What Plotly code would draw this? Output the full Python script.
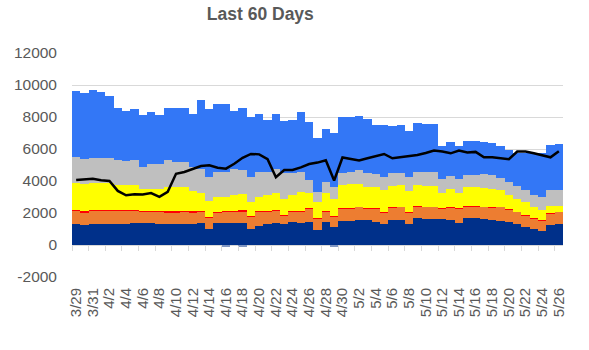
import plotly.graph_objects as go

days = ["3/29", "3/30", "3/31",
        "4/1", "4/2", "4/3", "4/4", "4/5", "4/6", "4/7", "4/8", "4/9", "4/10",
        "4/11", "4/12", "4/13", "4/14", "4/15", "4/16", "4/17", "4/18", "4/19", "4/20",
        "4/21", "4/22", "4/23", "4/24", "4/25", "4/26", "4/27", "4/28", "4/29", "4/30",
        "5/1", "5/2", "5/3", "5/4", "5/5", "5/6", "5/7", "5/8", "5/9", "5/10",
        "5/11", "5/12", "5/13", "5/14", "5/15", "5/16", "5/17", "5/18", "5/19", "5/20",
        "5/21", "5/22", "5/23", "5/24", "5/25", "5/26"]

navy = [1330, 1230, 1330, 1330, 1330, 1330, 1330, 1380, 1400, 1400,
        1330, 1290, 1290, 1290, 1330, 1380, 980, 1400, 1380, 1380,
        1380, 980, 1170, 1330, 1380, 1290, 1440, 1380, 1440, 910,
        1440, 1120, 1500, 1500, 1590, 1540, 1440, 1330, 1590, 1590,
        1290, 1710, 1650, 1650, 1650, 1590, 1380, 1710, 1710, 1650,
        1590, 1500, 1440, 1290, 1120, 1020, 870, 1230, 1290]
orange = [840, 800, 800, 820, 820, 820, 810, 750, 710, 710,
          770, 770, 770, 790, 720, 690, 720, 600, 690, 690,
          720, 770, 900, 780, 770, 570, 630, 730, 840, 740,
          630, 670, 780, 780, 790, 740, 840, 670, 750, 790,
          710, 710, 730, 730, 630, 750, 900, 710, 710, 730,
          750, 880, 770, 780, 740, 630, 670, 730, 780]
red = [30, 80, 80, 40, 30, 40, 30, 30, 30, 40,
       30, 60, 60, 40, 50, 30, 50, 40, 30, 40,
       70, 50, 30, 30, 20, 30, 30, 30, 20, 40,
       30, 40, 20, 20, 20, 20, 20, 40, 30, 20,
       60, 20, 20, 20, 20, 20, 20, 20, 20, 20,
       20, 20, 30, 20, 20, 20, 20, 30, 20]
yellow = [1690, 1680, 1640, 1700, 1670, 1530, 1550, 1560, 1370, 1360,
          1400, 1480, 1520, 1520, 1270, 1150, 970, 930, 910, 1010,
          990, 900, 870, 980, 1050, 1010, 1020, 1180, 920, 1010,
          1120, 1070, 1440, 1510, 1410, 1340, 1300, 1390, 1310, 1340,
          1310, 1300, 1280, 1280, 920, 1110, 960, 1160, 1160, 1180,
          1170, 1030, 880, 810, 820, 710, 650, 430, 330]
gray = [1590, 1590, 1590, 1550, 1590, 1600, 1550, 1600, 1390, 1530,
        1510, 1700, 1570, 1570, 1530, 1480, 1550, 1610, 1570, 1610,
        1530, 1570, 1610, 1420, 1510, 1580, 1400, 1260, 840, 620,
        730, 740, 780, 770, 880, 840, 810, 800, 840, 780,
        860, 840, 860, 860, 880, 840, 860, 770, 770, 830,
        840, 780, 830, 780, 730, 740, 800, 1010, 1010]
blue = [4170, 4130, 4240, 4130, 3860, 3240, 3130, 3200, 3250, 3270,
        3110, 3290, 3380, 3380, 3280, 4320, 4250, 4240, 4240, 3630,
        3870, 3710, 3610, 3290, 3460, 3290, 3310, 3730, 3600, 3360,
        3290, 3350, 3480, 3420, 3350, 3390, 3110, 3290, 2930, 2960,
        2870, 3040, 3040, 3040, 2100, 2100, 2080, 2100, 2100, 2020,
        1990, 1990, 1990, 2100, 2350, 2660, 2770, 2830, 2870]
adjust = [0, 0, 0, 0, 0, 0, 0, 0, 0, 0,
          0, 0, 0, 0, 0, 0, 0, 0, -80, 0,
          -80, 0, 0, 0, 0, 0, 0, 0, 0, 0,
          0, -80, 0, 0, 0, 0, 0, 0, 0, 0,
          0, 0, 0, 0, 0, 0, 0, 0, 0, 0,
          0, 0, 0, 0, 0, 0, 0, 0, 0]
trend = [4060, 4120, 4140, 4050, 4000, 3380, 3110, 3170, 3150, 3250,
         3010, 3320, 4450, 4560, 4760, 4940, 4980, 4830, 4770, 5080,
         5450, 5690, 5665, 5360, 4240, 4690, 4690, 4850, 5060, 5150,
         5300, 4030, 5470, 5380, 5290, 5420, 5550, 5690, 5420, 5480,
         5530, 5620, 5750, 5900, 5840, 5730, 5900, 5780, 5820, 5480,
         5480, 5420, 5360, 5840, 5840, 5730, 5610, 5480, 5860]

y_ticks = [-2000, 0, 2000, 4000, 6000, 8000, 10000, 12000]
y_tick_text = ["-2000", "0", "2000", "4000", "6000", "8000", "10000", "12000"]

series = [
    ("Navy", navy, "#00308A"),
    ("Orange", orange, "#ED7D31"),
    ("Red", red, "#FF0000"),
    ("Yellow", yellow, "#FFFF00"),
    ("Gray", gray, "#BFBFBF"),
    ("Blue", blue, "#3377F6"),
    ("Adjust", adjust, "#8096C2"),
]

FONT = "Liberation Sans, Arial, sans-serif"
TXT = "#595959"
GRID = "#D9D9D9"

fig = go.Figure()
for name, vals, col in series:
    fig.add_trace(go.Bar(x=days, y=vals, name=name,
                         marker=dict(color=col, line=dict(width=0))))

fig.add_trace(go.Scatter(x=days, y=trend, mode="lines", name="Trend",
                         line=dict(color="black", width=2.5),
                         xaxis="x2"))

fig.update_layout(
    width=589, height=350,
    margin=dict(l=72, r=26, t=53, b=73),
    paper_bgcolor="white", plot_bgcolor="white",
    barmode="relative", bargap=0,
    showlegend=False,
    font=dict(family=FONT, color=TXT),
    title=dict(text="<b>Last 60 Days</b>", x=0.442, xanchor="center",
               y=0.96, yanchor="middle",
               font=dict(family=FONT, size=17.5, color=TXT)),
    xaxis=dict(type="category", tickangle=-90, dtick=2,
               tickfont=dict(size=15, color=TXT),
               showgrid=False, showline=False, ticks="",
               ticklabelstandoff=7),
    xaxis2=dict(type="category", overlaying="x", matches="x",
                anchor="free", position=2000 / 14000,
                showticklabels=False, showgrid=False, showline=False,
                ticks="outside", ticklen=5, tickcolor=GRID, tickwidth=1,
                tickson="boundaries", dtick=2),
    yaxis=dict(range=[-2000, 12000], tickvals=y_ticks, ticktext=y_tick_text,
               tickfont=dict(size=15.5, color=TXT),
               showgrid=True, gridcolor=GRID, gridwidth=1,
               zeroline=True, zerolinecolor=GRID, zerolinewidth=1,
               showline=False, ticks="", ticklabelstandoff=14),
)

fig.write_html("out.html")
